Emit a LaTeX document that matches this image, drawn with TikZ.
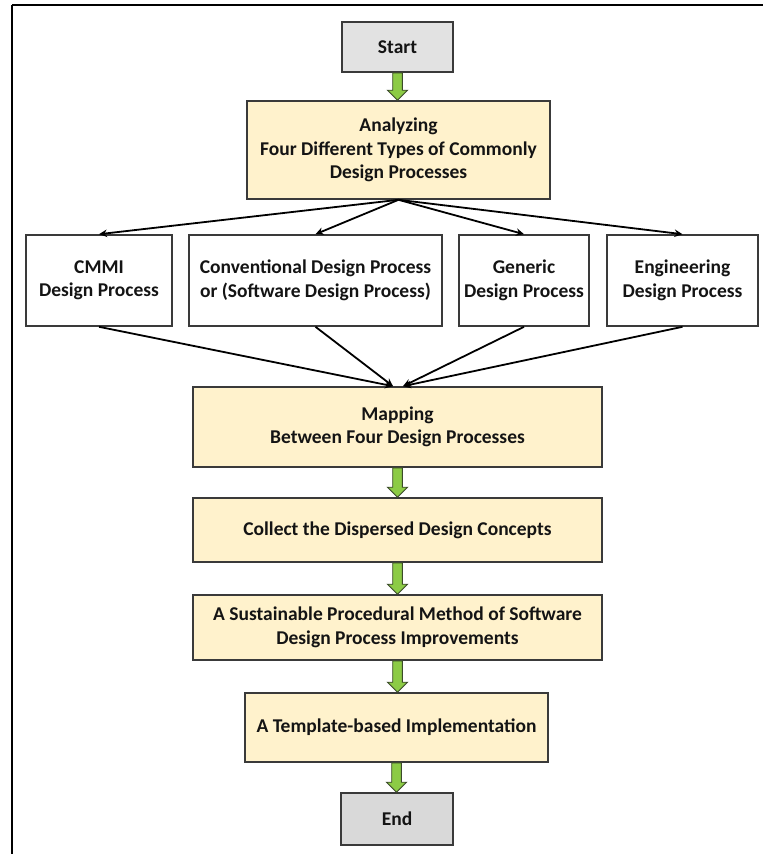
\documentclass[tikz,border=0pt]{standalone}
\usepackage{fontspec}
\setmainfont{Carlito}
\usetikzlibrary{arrows.meta,calc}
\definecolor{boxyellow}{HTML}{FFF2CC}
\definecolor{boxgray}{HTML}{E2E2E2}
\definecolor{boxgrayb}{HTML}{D9D9D9}
\definecolor{edgegray}{HTML}{3A3A3A}
\definecolor{arrgreen}{HTML}{8CCB45}
\definecolor{arrgreenb}{HTML}{3B4A2A}
\definecolor{txt}{HTML}{141414}
\tikzset{
  box/.style={draw=edgegray, line width=1.6pt, inner sep=0pt, align=center,
    font=\fontsize{19.5}{23.5}\selectfont\bfseries, text=txt},
  yelbox/.style={box, fill=boxyellow},
  graybox/.style={box, fill=boxgray},
  whitebox/.style={box, fill=white},
  conn/.style={line width=1.8pt, -{Stealth[length=8pt,width=7.5pt]}},
  blockarrow/.style={fill=arrgreen, draw=arrgreenb, line width=0.9pt, line join=miter},
  frame/.style={line width=2.4pt}
}
\newcommand{\greenarrow}[2]{%
  \path[blockarrow] let \p1=(#1.south), \p2=(#2.north) in
    (\x1-4.8pt,\y1) -- (\x1+4.8pt,\y1) -- (\x1+4.8pt,\y2+10pt) -- (\x1+10pt,\y2+10pt)
    -- (\x1,\y2) -- (\x1-10pt,\y2+10pt) -- (\x1-4.8pt,\y2+10pt) -- cycle;}
\begin{document}
\begin{tikzpicture}[x=1pt,y=-1pt]
\useasboundingbox (0,0) rectangle (763,854);
\fill[white] (0,0) rectangle (763,854);
\draw[frame] (12,5) -- (763,5);
\draw[frame] (12,5) -- (12,854);

\node[graybox, minimum width=111pt, minimum height=50pt] (start) at (397.5,47) {Start};
\node[yelbox, minimum width=303pt, minimum height=98pt] (ana) at (398.5,150)
  {Analyzing\\Four Different Types of Commonly\\Design Processes};

\node[whitebox, minimum width=146pt, minimum height=91pt] (cmmi) at (99,280.5)
  {CMMI\\Design Process};
\node[whitebox, minimum width=253pt, minimum height=91pt] (conv) at (315.5,280.5)
  {Conventional Design Process\\or (Software Design Process)};
\node[whitebox, minimum width=130pt, minimum height=91pt] (gen) at (524,280.5)
  {Generic\\Design Process};
\node[whitebox, minimum width=151pt, minimum height=91pt] (eng) at (682.5,280.5)
  {Engineering\\Design Process};

\node[yelbox, minimum width=409pt, minimum height=80pt] (map) at (397.5,427)
  {Mapping\\Between Four Design Processes};
\node[yelbox, minimum width=409pt, minimum height=64pt] (coll) at (397.5,530)
  {Collect the Dispersed Design Concepts};
\node[yelbox, minimum width=409pt, minimum height=65pt] (sus) at (397.5,627.5)
  {A Sustainable Procedural Method of Software\\Design Process Improvements};
\node[yelbox, minimum width=303pt, minimum height=69pt] (tmpl) at (396.5,727.5)
  {A Template-based Implementation};
\node[box, fill=boxgrayb, minimum width=112pt, minimum height=52pt] (end) at (397,819)
  {End};

\foreach \b in {cmmi,conv,gen,eng}
  \draw[conn] (ana.south) -- (\b.north);
\draw[conn] (cmmi.south) -- ($(map.north)+(-4.5,0)$);
\draw[conn] (conv.south) -- ($(map.north)+(-4.5,0)$);
\draw[conn] (gen.south) -- ($(map.north)+(5.5,0)$);
\draw[conn] (eng.south) -- ($(map.north)+(5.5,0)$);

\greenarrow{start}{ana}
\greenarrow{map}{coll}
\greenarrow{coll}{sus}
\greenarrow{sus}{tmpl}
\greenarrow{tmpl}{end}
\end{tikzpicture}
\end{document}
